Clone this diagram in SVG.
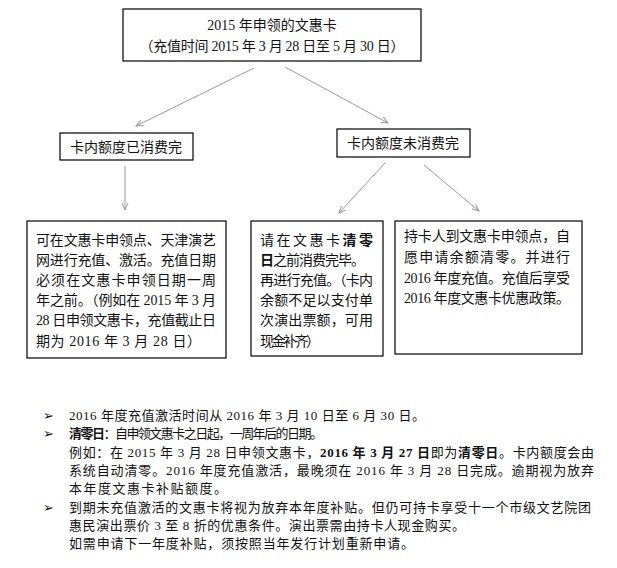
<svg xmlns="http://www.w3.org/2000/svg" width="617" height="568" viewBox="0 0 617 568">
<defs>
<style>
text{font-family:"Liberation Serif","Noto Sans CJK SC",serif;font-size:14px;fill:#111}
.s{font-size:13px}
.box{fill:#fff;stroke:#000;stroke-width:1.2}
.c{stroke:#999;stroke-width:1;fill:none;marker-end:url(#a)}
.b{font-weight:bold}
</style>
<marker id="a" markerWidth="8" markerHeight="8" refX="7" refY="4" orient="auto" markerUnits="userSpaceOnUse"><path d="M0,1 L7,4 L0,7" fill="none" stroke="#999"/></marker>
</defs>
<rect width="617" height="568" fill="#fff"/>
<g id="connectors">
<line class="c" x1="254" y1="68" x2="136" y2="126"/>
<line class="c" x1="285" y1="67" x2="388" y2="123"/>
<line class="c" x1="125" y1="166" x2="125" y2="210"/>
<line class="c" x1="385" y1="163" x2="339" y2="213"/>
<line class="c" x1="424" y1="165" x2="479" y2="211"/>
</g>
<g id="top"><rect class="box" x="123" y="9" width="298" height="52"/>
<text x="272" y="30" text-anchor="middle">2015 年申领的文惠卡</text>
<text x="272" y="51" text-anchor="middle" textLength="265" lengthAdjust="spacing">（充值时间 2015 年 3 月 28 日至 5 月 30 日）</text></g>
<g id="used"><rect class="box" x="60" y="133" width="133" height="27"/><text x="126" y="152" text-anchor="middle">卡内额度已消费完</text></g>
<g id="unused"><rect class="box" x="337" y="129" width="133" height="28"/><text x="403" y="148" text-anchor="middle">卡内额度未消费完</text></g>
<g id="left"><rect class="box" x="27" y="221" width="199" height="137"/>
<text x="36" y="245" textLength="180">可在文惠卡申领点、天津演艺</text>
<text x="36" y="265" textLength="180">网进行充值、激活。充值日期</text>
<text x="36" y="285" textLength="180">必须在文惠卡申领日期一周</text>
<text x="36" y="305" textLength="180">年之前。（例如在 2015 年 3 月</text>
<text x="36" y="325" textLength="180">28 日申领文惠卡，充值截止日</text>
<text x="36" y="346" textLength="165">期为 2016 年 3 月 28 日）</text></g>
<g id="mid"><rect class="box" x="251" y="221" width="132" height="135"/>
<text x="260" y="245" textLength="113">请在文惠卡<tspan class="b">清零</tspan></text>
<text x="260" y="265" textLength="105"><tspan class="b">日</tspan>之前消费完毕。</text>
<text x="260" y="285" textLength="113">再进行充值。（卡内</text>
<text x="260" y="305" textLength="113">余额不足以支付单</text>
<text x="260" y="325" textLength="113">次演出票额，可用</text>
<text x="260" y="346" textLength="60">现金补齐）</text></g>
<g id="right"><rect class="box" x="395" y="221" width="187" height="133"/>
<text x="404" y="241" textLength="166">持卡人到文惠卡申领点，自</text>
<text x="404" y="262" textLength="166">愿申请余额清零。并进行</text>
<text x="404" y="283" textLength="166">2016 年度充值。充值后享受</text>
<text x="404" y="303" textLength="166">2016 年度文惠卡优惠政策。</text></g>
<g id="notes">
<text class="s" x="43" y="420">➢</text>
<text class="s" x="69" y="420" textLength="356">2016 年度充值激活时间从 2016 年 3 月 10 日至 6 月 30 日。</text>
<text class="s" x="43" y="438">➢</text>
<text class="s" x="69" y="438" textLength="254"><tspan class="b">清零日</tspan>：自申领文惠卡之日起，一周年后的日期。</text>
<text class="s" x="69" y="457" textLength="525">例如：在 2015 年 3 月 28 日申领文惠卡，<tspan class="b">2016 年 3 月 27 日</tspan>即为<tspan class="b">清零日</tspan>。卡内额度会由</text>
<text class="s" x="69" y="475" textLength="525">系统自动清零。2016 年度充值激活，最晚须在 2016 年 3 月 28 日完成。逾期视为放弃</text>
<text class="s" x="69" y="493" textLength="158">本年度文惠卡补贴额度。</text>
<text class="s" x="43" y="512">➢</text>
<text class="s" x="69" y="512" textLength="522">到期未充值激活的文惠卡将视为放弃本年度补贴。但仍可持卡享受十一个市级文艺院团</text>
<text class="s" x="69" y="530" textLength="396">惠民演出票价 3 至 8 折的优惠条件。演出票需由持卡人现金购买。</text>
<text class="s" x="69" y="548" textLength="345">如需申请下一年度补贴，须按照当年发行计划重新申请。</text>
</g>
</svg>
